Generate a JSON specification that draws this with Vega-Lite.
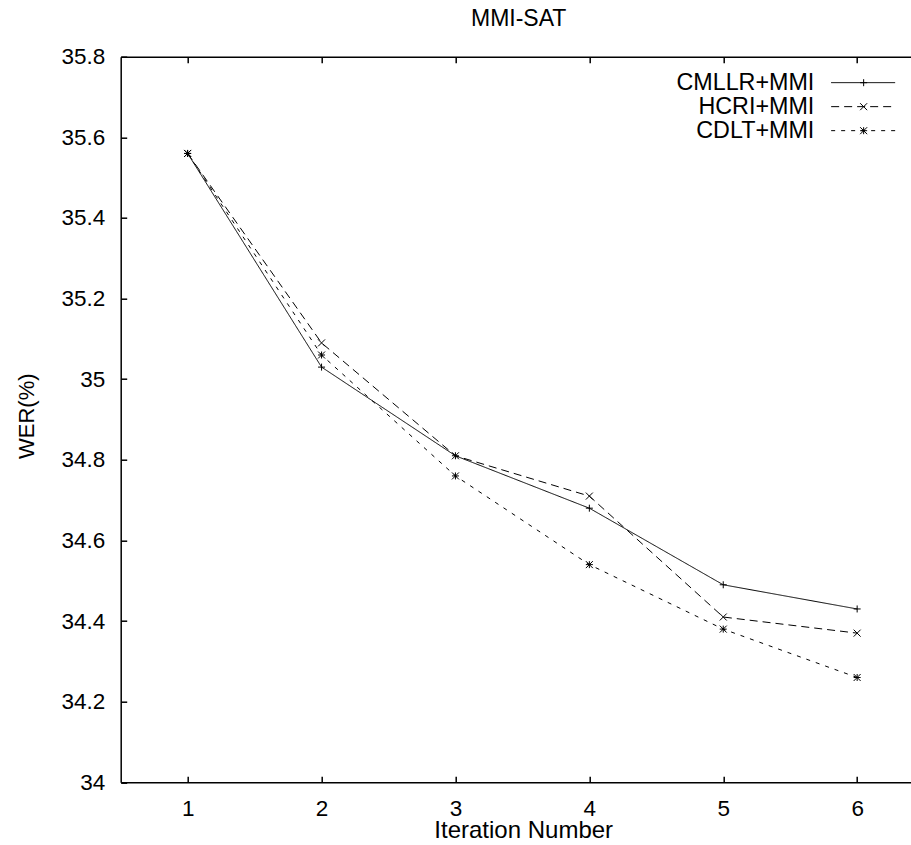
{
  "$schema": "https://vega.github.io/schema/vega-lite/v6.json",
  "autosize": "none",
  "width": 790,
  "height": 725.6,
  "padding": {"left": 120.7, "top": 56.7, "right": 0.3, "bottom": 62.7},
  "background": "white",
  "config": {
    "view": {"stroke": null},
    "font": "Liberation Sans",
    "axis": {
      "grid": false,
      "domainColor": "black",
      "domainWidth": 1.5,
      "tickColor": "black",
      "tickWidth": 1.5,
      "tickSize": -6,
      "labelFont": "Liberation Sans",
      "labelFontSize": 22.5,
      "labelColor": "black",
      "titleFont": "Liberation Sans",
      "titleFontSize": 23,
      "titleFontWeight": "normal",
      "titleColor": "black"
    },
    "legend": {
      "labelFont": "Liberation Sans",
      "labelFontSize": 23.3,
      "labelColor": "black",
      "padding": 0,
      "offset": 0
    },
    "title": {"fontSize": 23, "fontWeight": "normal", "color": "black", "font": "Liberation Sans"}
  },
  "title": {
    "text": "MMI-SAT",
    "anchor": "middle",
    "offset": 15,
    "dx": 3
  },
  "data": {
    "values": [
      {"iter": 1, "series": "CMLLR+MMI", "wer": 35.56},
      {"iter": 2, "series": "CMLLR+MMI", "wer": 35.03},
      {"iter": 3, "series": "CMLLR+MMI", "wer": 34.81},
      {"iter": 4, "series": "CMLLR+MMI", "wer": 34.68},
      {"iter": 5, "series": "CMLLR+MMI", "wer": 34.49},
      {"iter": 6, "series": "CMLLR+MMI", "wer": 34.43},
      {"iter": 1, "series": "HCRI+MMI", "wer": 35.56},
      {"iter": 2, "series": "HCRI+MMI", "wer": 35.09},
      {"iter": 3, "series": "HCRI+MMI", "wer": 34.81},
      {"iter": 4, "series": "HCRI+MMI", "wer": 34.71},
      {"iter": 5, "series": "HCRI+MMI", "wer": 34.41},
      {"iter": 6, "series": "HCRI+MMI", "wer": 34.37},
      {"iter": 1, "series": "CDLT+MMI", "wer": 35.56},
      {"iter": 2, "series": "CDLT+MMI", "wer": 35.06},
      {"iter": 3, "series": "CDLT+MMI", "wer": 34.76},
      {"iter": 4, "series": "CDLT+MMI", "wer": 34.54},
      {"iter": 5, "series": "CDLT+MMI", "wer": 34.38},
      {"iter": 6, "series": "CDLT+MMI", "wer": 34.26}
    ]
  },
  "resolve": {"axis": {"x": "independent"}},
  "layer": [
    {
      "mark": {"type": "line", "color": "black", "strokeWidth": 1},
      "encoding": {
        "x": {
          "field": "iter", "type": "quantitative",
          "scale": {"domain": [0.5, 6.4], "nice": false, "zero": false},
          "axis": {
            "orient": "bottom",
            "values": [1, 2, 3, 4, 5, 6],
            "format": "d",
            "labelPadding": 39,
            "labelBaseline": "alphabetic",
            "title": "Iteration Number",
            "titleFontSize": 24,
            "titleX": 402.5,
            "titleY": 55,
            "titleBaseline": "alphabetic",
            "titleAlign": "center"
          }
        },
        "y": {
          "field": "wer", "type": "quantitative",
          "scale": {"domain": [34, 35.8], "nice": false, "zero": false},
          "axis": {
            "values": [34, 34.2, 34.4, 34.6, 34.8, 35, 35.2, 35.4, 35.6, 35.8],
            "labelExpr": "format(datum.value, '~g')",
            "labelPadding": 22,
            "title": "WER(%)",
            "titleFontSize": 22,
            "titleX": -87,
            "titleY": 359,
            "titleAngle": -90,
            "titleBaseline": "alphabetic",
            "titleAlign": "center"
          }
        },
        "strokeDash": {
          "field": "series", "type": "nominal",
          "scale": {
            "domain": ["CMLLR+MMI", "HCRI+MMI", "CDLT+MMI"],
            "range": [[1, 0], [8, 5], [4, 6]]
          },
          "legend": {
            "title": null,
            "orient": "none",
            "direction": "vertical",
            "legendX": 730.8,
            "legendY": 14.3,
            "symbolType": "M-6.4,0L6.4,0",
            "symbolSize": 100,
            "symbolStrokeColor": "black",
            "symbolStrokeWidth": 1,
            "labelAlign": "right",
            "labelOffset": -60.5,
            "labelLimit": 400,
            "rowPadding": 0
          }
        }
      }
    },
    {
      "mark": {"type": "point", "filled": false, "color": "black", "size": 49, "strokeWidth": 1, "opacity": 1},
      "encoding": {
        "x": {
          "field": "iter", "type": "quantitative",
          "axis": {
            "orient": "top",
            "values": [1, 2, 3, 4, 5, 6],
            "labels": false,
            "title": null,
            "domain": true,
            "ticks": true,
            "domainOpacity": 1,
            "tickOpacity": 1,
            "domainColor": "#000000",
            "tickColor": "#000000",
            "zindex": 2
          }
        },
        "y": {"field": "wer", "type": "quantitative"},
        "shape": {
          "field": "series", "type": "nominal",
          "sort": ["CMLLR+MMI", "HCRI+MMI", "CDLT+MMI"],
          "scale": {
            "range": [
              "M-1,0L1,0M0,-1L0,1",
              "M-1,-1L1,1M-1,1L1,-1",
              "M-1,0L1,0M0,-1L0,1M-1,-1L1,1M-1,1L1,-1"
            ]
          },
          "legend": {
            "title": null,
            "orient": "none",
            "direction": "vertical",
            "legendX": 731.3,
            "legendY": 14.35,
            "symbolSize": 49,
            "symbolStrokeColor": "black",
            "symbolStrokeWidth": 1,
            "symbolFillColor": "transparent",
            "labelExpr": "''",
            "rowPadding": 0
          }
        }
      }
    }
  ]
}
